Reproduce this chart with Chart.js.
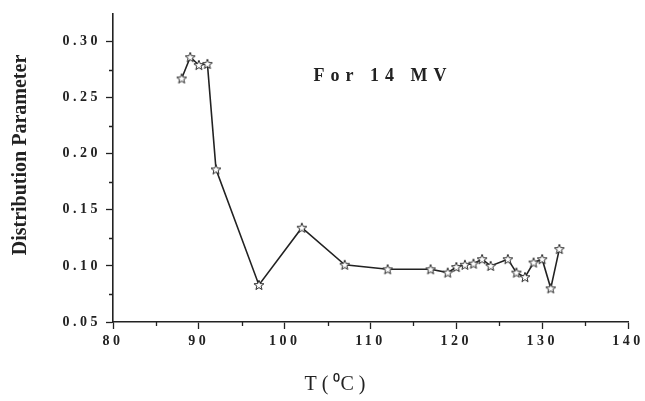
<!DOCTYPE html>
<html lang="en">
<head>
<meta charset="UTF-8">
<title>Distribution Parameter vs T</title>
<script src="https://cdn.jsdelivr.net/npm/chart.js"></script>
<style>
    html, body { margin: 0; padding: 0; background: #fff; }
    #wrap { width: 645px; height: 401px; }
</style>
</head>
<body>
<div id="wrap"><canvas id="grafico"></canvas></div>

<script>
    // temperature (deg C) and distribution parameter, for 14 MV
    const temperaturas = [88, 89, 90, 91, 92, 97, 102, 107, 112, 117,
        119, 120, 121, 122, 123, 124, 126, 127, 128, 129, 130, 131, 132];
    const parametros = [0.267, 0.286, 0.279, 0.280, 0.186, 0.083, 0.134, 0.101, 0.097, 0.097,
        0.094, 0.099, 0.101, 0.102, 0.106, 0.100, 0.106, 0.094, 0.090, 0.103, 0.106, 0.080, 0.115];

    const ticksX = [80, 90, 100, 110, 120, 130, 140];
    const ticksY = [0.05, 0.10, 0.15, 0.20, 0.25, 0.30];
    const minorX = [85, 95, 105, 115, 125, 135];
    const minorY = [0.075, 0.125, 0.175, 0.225, 0.275];

    const fonteSerif = '"Liberation Serif", "Times New Roman", serif';

    // hollow five-pointed star used as the marker
    function criarEstrela() {
        const c = document.createElement('canvas');
        c.width = 12; c.height = 12;
        const g = c.getContext('2d');
        g.beginPath();
        for (let i = 0; i < 10; i++) {
            const r = i % 2 === 0 ? 5.2 : 2.2;
            const a = -Math.PI / 2 + i * Math.PI / 5;
            const px = 6 + r * Math.cos(a);
            const py = 6.4 + r * Math.sin(a);
            if (i === 0) g.moveTo(px, py); else g.lineTo(px, py);
        }
        g.closePath();
        g.fillStyle = '#fff';
        g.fill();
        g.lineWidth = 1;
        g.strokeStyle = '#2a2a2a';
        g.stroke();
        return c;
    }

    const pontos = temperaturas.map((t, i) => ({ x: t, y: parametros[i] }));

    // spaced-out tick labels, minor ticks, titles and the note
    const extras = {
        id: 'extras',
        beforeDraw(chart) {
            chart.ctx.letterSpacing = '3.5px';
        },
        afterDraw(chart) {
            const ctx = chart.ctx;
            const x = chart.scales.x, y = chart.scales.y;
            const area = chart.chartArea;
            ctx.save();
            ctx.strokeStyle = '#222';
            ctx.lineWidth = 1.3;
            ctx.beginPath();
            minorX.forEach(v => {
                const px = Math.round(x.getPixelForValue(v)) + 0.5;
                ctx.moveTo(px, area.bottom);
                ctx.lineTo(px, area.bottom + 4);
            });
            minorY.forEach(v => {
                const py = Math.round(y.getPixelForValue(v)) + 0.5;
                ctx.moveTo(area.left, py);
                ctx.lineTo(area.left - 4, py);
            });
            ctx.stroke();

            ctx.fillStyle = '#222';
            ctx.textAlign = 'center';
            ctx.textBaseline = 'middle';

            ctx.letterSpacing = '0px';
            ctx.save();
            ctx.translate(21, 155);
            ctx.rotate(-Math.PI / 2);
            ctx.font = 'bold 20px ' + fonteSerif;
            ctx.fillText('Distribution Parameter', 0, 0);
            ctx.restore();

            ctx.font = '20px ' + fonteSerif;
            ctx.fillText('T ( \u2070C )', 335, 385);

            ctx.letterSpacing = '6px';
            ctx.font = 'bold 18px ' + fonteSerif;
            ctx.fillText('For 14 MV', 383, 76);
            ctx.restore();
        }
    };

    new Chart(document.getElementById('grafico'), {
        type: 'line',
        data: {
            datasets: [{
                data: pontos,
                borderColor: '#222',
                borderWidth: 1.6,
                pointStyle: criarEstrela(),
                pointRadius: 6,
                tension: 0,
                fill: false
            }]
        },
        options: {
            responsive: true,
            maintainAspectRatio: false,
            animation: false,
            layout: { padding: { left: 0, top: 12, right: 17, bottom: 0 } },
            plugins: {
                legend: { display: false },
                tooltip: { enabled: false }
            },
            scales: {
                x: {
                    type: 'linear',
                    min: 80,
                    max: 140,
                    afterBuildTicks: s => { s.ticks = ticksX.map(v => ({ value: v })); },
                    afterFit: s => { s.height = 79; },
                    grid: { drawOnChartArea: false, tickLength: 7, tickColor: '#222', tickWidth: 1.3 },
                    border: { color: '#222', width: 1.6 },
                    ticks: {
                        color: '#222',
                        padding: 4,
                        maxRotation: 0,
                        font: { family: fonteSerif, size: 14, weight: 'bold' },
                        callback: v => String(v)
                    }
                },
                y: {
                    min: 0.05,
                    max: 0.325,
                    afterBuildTicks: s => { s.ticks = ticksY.map(v => ({ value: v })); },
                    afterFit: s => { s.width = 113; },
                    grid: { drawOnChartArea: false, tickLength: 7, tickColor: '#222', tickWidth: 1.3 },
                    border: { color: '#222', width: 1.6 },
                    ticks: {
                        color: '#222',
                        padding: 5,
                        font: { family: fonteSerif, size: 14, weight: 'bold' },
                        callback: v => Number(v).toFixed(2)
                    }
                }
            }
        },
        plugins: [extras]
    });
</script>
</body>
</html>
